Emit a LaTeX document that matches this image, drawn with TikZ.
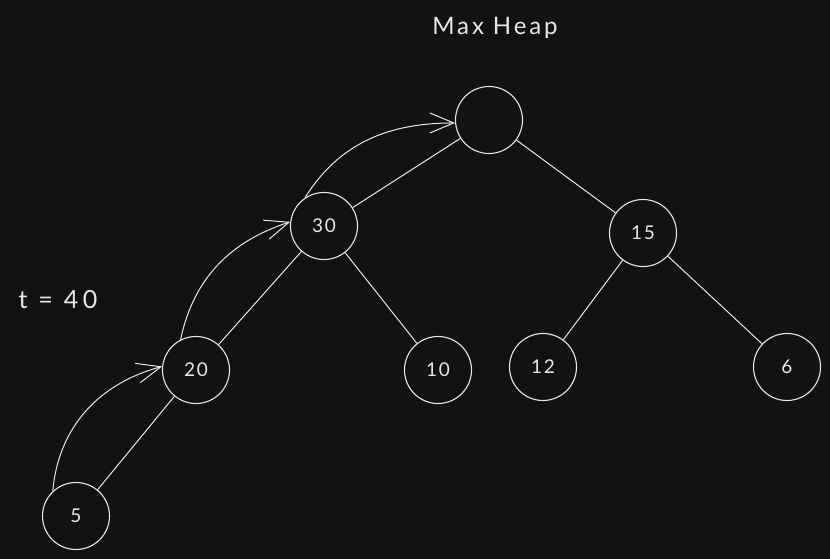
\documentclass[tikz,border=0pt]{standalone}
\usepackage{fontspec}
\setmainfont{Lato}
\usetikzlibrary{arrows.meta}
\definecolor{bg}{HTML}{121212}
\definecolor{ink}{HTML}{E8E8E8}
\begin{document}
\begin{tikzpicture}[x=1pt,y=1pt,
  hnode/.style={circle, draw=ink, line width=1.1pt, minimum size=67pt, inner sep=0pt, text=ink, font=\fontsize{19}{22}\selectfont\addfontfeature{LetterSpace=8}},
  edge/.style={draw=ink, line width=1pt},
  moveup/.style={draw=ink, line width=1pt, -{Straight Barb[length=24pt,width=20pt,line width=1pt]}},
  label/.style={text=ink, inner sep=0pt}]
\fill[bg] (0,0) rectangle (830,-559);
\useasboundingbox (0,0) rectangle (830,-559);

\node[label, font=\fontsize{24}{28}\selectfont\addfontfeature{LetterSpace=12}] (title) at (495,-28) {Max Heap};
\node[label, font=\fontsize{25}{30}\selectfont\addfontfeature{LetterSpace=18}] (tval) at (58,-300) {t = 40};

\node[hnode] (nr) at (489,-120) {};
\node[hnode] (n30) at (324,-226) {30};
\node[hnode] (n15) at (643,-233) {15};
\node[hnode] (n20) at (196,-370) {20};
\node[hnode] (n10) at (438,-370) {10};
\node[hnode] (n12) at (543,-367) {12};
\node[hnode] (n6) at (787,-367) {6};
\node[hnode] (n5) at (76,-516) {5};

\draw[edge] (nr) -- (n30);
\draw[edge] (nr) -- (n15);
\draw[edge] (n30) -- (n20);
\draw[edge] (n30) -- (n10);
\draw[edge] (n15) -- (n12);
\draw[edge] (n15) -- (n6);
\draw[edge] (n20) -- (n5);

\draw[moveup] (n5.133) to[out=85, in=195] (n20.174);
\draw[moveup] (n20.117) to[out=78, in=198] (n30.173);
\draw[moveup] (n30.124) to[out=58, in=180] (nr.185);
\end{tikzpicture}
\end{document}
